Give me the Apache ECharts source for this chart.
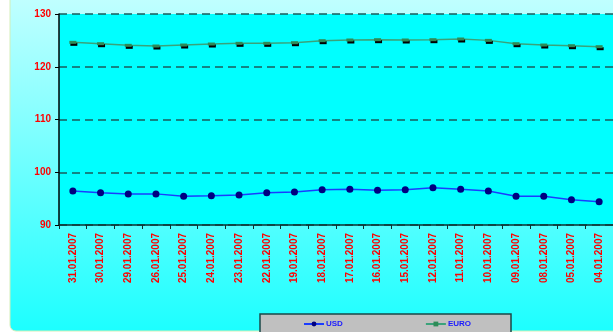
<!DOCTYPE html>
<html>
<head>
<meta charset="utf-8">
<script src="https://cdn.jsdelivr.net/npm/echarts@6/dist/echarts.min.js"></script>
<style>
  html, body { margin: 0; padding: 0; background: #ffffff; }
  #chart { width: 613px; height: 332px; }
</style>
</head>
<body>
<div id="chart"></div>
<script>
// Exchange rate dates (newest first)
const dates = [
  '31.01.2007', '30.01.2007', '29.01.2007', '26.01.2007', '25.01.2007',
  '24.01.2007', '23.01.2007', '22.01.2007', '19.01.2007', '18.01.2007',
  '17.01.2007', '16.01.2007', '15.01.2007', '12.01.2007', '11.01.2007',
  '10.01.2007', '09.01.2007', '08.01.2007', '05.01.2007', '04.01.2007'
];

const usd = [
  96.45, 96.10, 95.90, 95.90, 95.44, 95.56, 95.70, 96.12, 96.25, 96.70,
  96.80, 96.57, 96.70, 97.08, 96.80, 96.45, 95.44, 95.44, 94.80, 94.42
];

const euro = [
  124.63, 124.37, 124.06, 123.93, 124.12, 124.31, 124.44, 124.44, 124.56, 124.94,
  125.07, 125.13, 125.07, 125.13, 125.26, 125.00, 124.37, 124.12, 123.99, 123.80
];

const yTicks = { min: 90, max: 130, step: 10 };

const FONT = 'Liberation Sans, Arial, sans-serif';
const chart = echarts.init(document.getElementById('chart'), null, { renderer: 'canvas' });

chart.setOption({
  animation: false,
  backgroundColor: '#ffffff',
  graphic: [{
    type: 'rect',
    z: -10,
    shape: { x: 10, y: -12, width: 620, height: 343, r: 6 },
    style: {
      fill: {
        type: 'linear', x: 0, y: 0, x2: 0, y2: 1,
        colorStops: [
          { offset: 0, color: '#c6ffff' },
          { offset: 1, color: '#1cffff' }
        ]
      },
      stroke: '#d4eeb8',
      lineWidth: 1
    }
  }],
  grid: {
    left: 59, top: 14, width: 558, height: 211,
    show: true, backgroundColor: '#00ffff', borderWidth: 0
  },
  legend: {
    left: 260, top: 314,
    padding: [6, 40, 8, 43],
    backgroundColor: '#c0c0c0',
    borderColor: '#1a4848',
    borderWidth: 1.5,
    itemGap: 82,
    itemWidth: 20,
    itemHeight: 6,
    textStyle: {
      color: '#1a1aff', fontFamily: FONT, fontWeight: 'bold', fontSize: 8,
      padding: [0, 0, 0, -3]
    },
    data: ['USD', 'EURO']
  },
  xAxis: {
    type: 'category',
    data: dates,
    boundaryGap: true,
    axisLine: { lineStyle: { color: '#0d3030', width: 1.5 } },
    axisTick: { show: true, interval: 0, length: 4, lineStyle: { color: '#0d3030' } },
    axisLabel: {
      interval: 0, rotate: 90, margin: 8,
      color: '#ff0000', fontFamily: FONT, fontWeight: 'bold', fontSize: 10
    },
    splitLine: { show: false }
  },
  yAxis: {
    type: 'value',
    min: yTicks.min, max: yTicks.max, interval: yTicks.step,
    axisLine: { show: true, lineStyle: { color: '#000000', width: 1.5 } },
    axisTick: { show: true, length: 4, lineStyle: { color: '#000000' } },
    axisLabel: {
      margin: 8, color: '#ff0000', fontFamily: FONT, fontWeight: 'bold', fontSize: 10
    },
    splitLine: {
      show: true,
      lineStyle: { color: '#1a5c5c', width: 1.5, type: [8, 5] }
    }
  },
  series: [
    {
      name: 'USD',
      type: 'line',
      data: usd,
      symbol: 'circle',
      symbolSize: 7,
      lineStyle: { color: '#1a3cff', width: 1.5 },
      itemStyle: { color: '#000080' }
    },
    {
      name: 'EURO',
      type: 'line',
      data: euro,
      symbol: 'rect',
      symbolSize: [7, 3],
      lineStyle: { color: '#3aa37a', width: 1.5 },
      itemStyle: {
        color: '#2e8b57',
        shadowColor: '#000000',
        shadowOffsetX: 1,
        shadowOffsetY: 2,
        shadowBlur: 0
      }
    }
  ]
});
</script>
</body>
</html>
